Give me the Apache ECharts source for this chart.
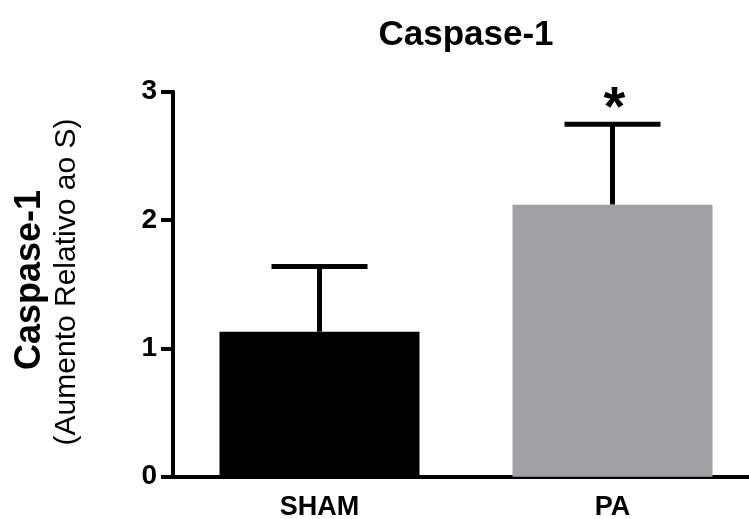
<!DOCTYPE html>
<html>
<head>
<meta charset="utf-8">
<script src="https://cdn.jsdelivr.net/npm/echarts@6/dist/echarts.min.js"></script>
<style>
  html, body { margin: 0; padding: 0; background: #fff; }
  #chart { width: 749px; height: 519px; }
</style>
</head>
<body>
<div id="chart"></div>
<script>
var categories = ['SHAM', 'PA'];
var means = [1.13, 2.12];
var errUpper = [1.637, 2.746];
var sigMarks = ['', '*'];
var barColors = ['#000000', '#a1a0a5'];

var FONT = 'Liberation Sans, Arial, sans-serif';
var chart = echarts.init(document.getElementById('chart'));

var option = {
    backgroundColor: '#fff',
    animation: false,
    grid: { left: 173, top: 91.7, bottom: 42.3, width: 586, outerBoundsMode: 'none' },
    xAxis: {
        type: 'category',
        data: categories,
        axisLine: { lineStyle: { color: '#000', width: 4 } },
        axisTick: { alignWithLabel: true, length: 11, lineStyle: { color: '#000', width: 4 } },
        axisLabel: { fontFamily: FONT, fontWeight: 'bold', fontSize: 27, color: '#000', margin: 17 }
    },
    yAxis: {
        type: 'value',
        min: 0,
        max: 3,
        interval: 1,
        splitLine: { show: false },
        axisLine: { show: true, lineStyle: { color: '#000', width: 4 } },
        axisTick: { show: true, length: 12, lineStyle: { color: '#000', width: 4 } },
        axisLabel: { fontFamily: FONT, fontWeight: 'bold', fontSize: 28, color: '#000', margin: 16 }
    },
    graphic: [{
        type: 'text',
        x: 466, y: 35,
        style: { text: 'Caspase-1', font: 'bold 35px ' + FONT, fill: '#000', align: 'center', verticalAlign: 'middle' }
    }, {
        type: 'text',
        x: 30, y: 280,
        rotation: Math.PI / 2,
        style: { text: 'Caspase-1', font: 'bold 36px ' + FONT, fill: '#000', align: 'center', verticalAlign: 'middle' }
    }, {
        type: 'text',
        x: 67, y: 282,
        rotation: Math.PI / 2,
        style: { text: '(Aumento Relativo ao S)', font: '30px ' + FONT, fill: '#000', align: 'center', verticalAlign: 'middle' }
    }],
    series: [{
        type: 'custom',
        z: 1,
        data: categories.map(function (c, i) { return [i, means[i], errUpper[i]]; }),
        renderItem: function (params, api) {
            var base = api.coord([api.value(0), api.value(1)]);
            var top = api.coord([api.value(0), api.value(2)]);
            var half = 48;
            return {
                type: 'group',
                children: [{
                    type: 'line',
                    shape: { x1: base[0], y1: base[1], x2: top[0], y2: top[1] },
                    style: { stroke: '#000', lineWidth: 5 }
                }, {
                    type: 'line',
                    shape: { x1: top[0] - half, y1: top[1], x2: top[0] + half, y2: top[1] },
                    style: { stroke: '#000', lineWidth: 5 }
                }, {
                    type: 'text',
                    x: top[0] + 2, y: top[1] - 15,
                    style: { text: sigMarks[params.dataIndex], font: 'bold 56px ' + FONT, fill: '#000', align: 'center', verticalAlign: 'middle' }
                }]
            };
        }
    }, {
        type: 'bar',
        z: 2,
        barWidth: 200,
        data: means.map(function (v, i) { return { value: v, itemStyle: { color: barColors[i] } }; })
    }]
};
chart.setOption(option);
</script>
</body>
</html>
